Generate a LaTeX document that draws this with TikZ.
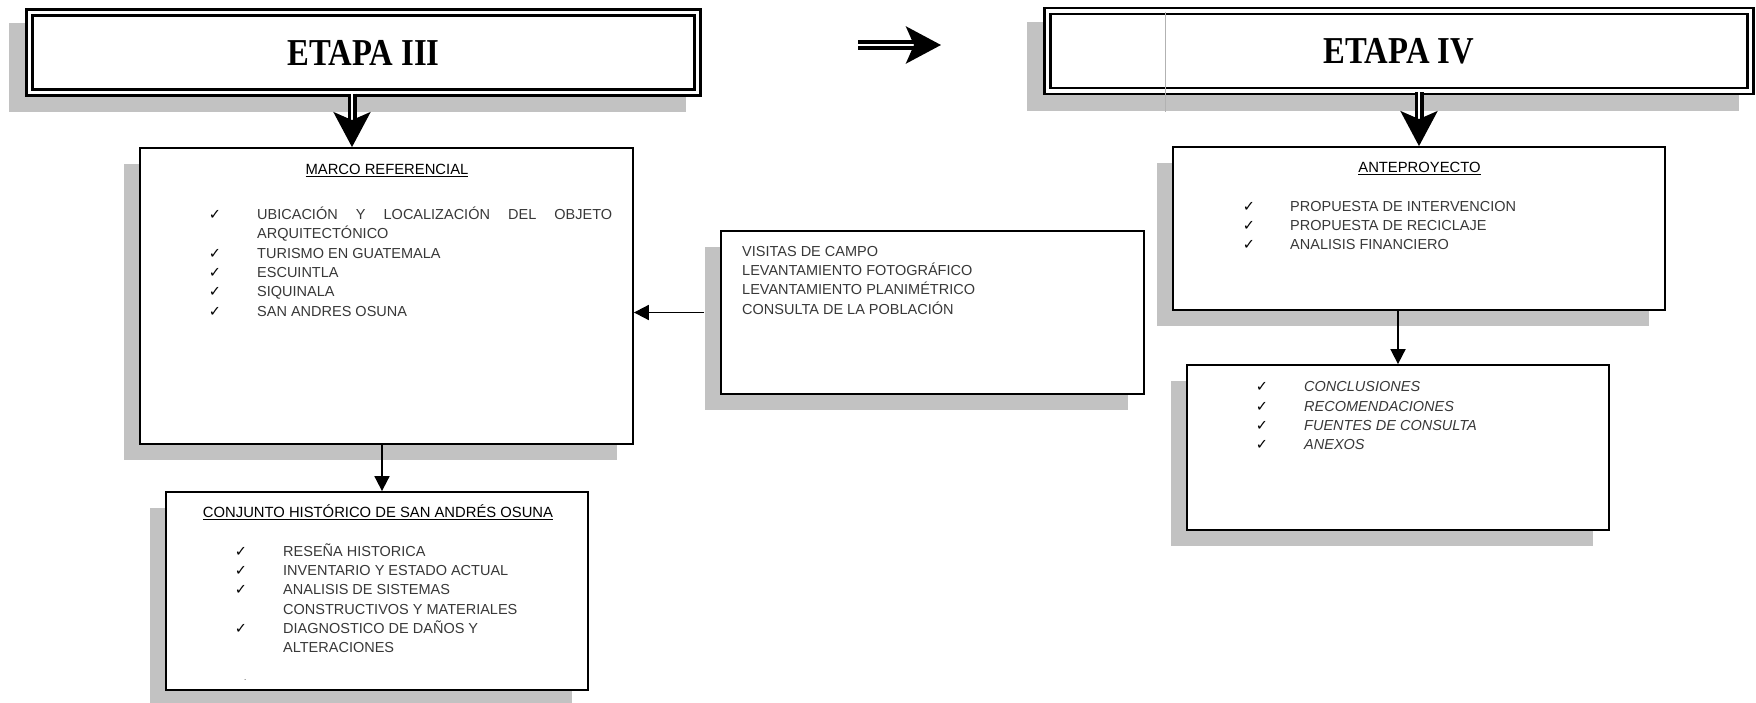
\documentclass[tikz,border=0pt]{standalone}
\usepackage{fontspec}
\usepackage{graphicx}
\setmainfont{Liberation Sans}
\newfontfamily\serifb{Liberation Serif}
\newfontfamily\symf{DejaVu Sans}
\usetikzlibrary{arrows.meta,shadows,calc}
\definecolor{shade}{gray}{0.76}
\definecolor{txt}{gray}{0.22}
\newcommand{\etapatxt}[1]{{\serifb\bfseries\fontsize{38}{40}\selectfont\scalebox{0.86}[1]{#1}}}
\newcommand{\chkm}{{\symf ✓}}
\tikzset{
  box/.style={draw=black, line width=1.8pt, fill=white, inner sep=0pt,
    general shadow={fill=shade, shadow xshift=-16pt, shadow yshift=-16pt}},
  etapa/.style={draw=black, line width=2.4pt, double=white, double distance=3.4pt,
    fill=white, inner sep=0pt,
    general shadow={fill=shade, draw=shade, line width=9pt, shadow xshift=-16.5pt, shadow yshift=-15.5pt}},
  item/.style={anchor=base west, inner sep=0pt, text=txt, font=\fontsize{14.5}{17}\selectfont},
  chk/.style={anchor=base, inner sep=0pt, text=black, font=\symf\fontsize{14.5}{17}\selectfont},
  ttl/.style={anchor=base, inner sep=0pt, text=black, font=\fontsize{14.8}{17}\selectfont},
  conn/.style={line width=1.8pt, -{Triangle[length=15pt,width=15pt]}},
  bigarrow/.style={line width=3.6pt, double=white, double distance=1.8pt,
    -{Stealth[length=35pt,width=37pt,inset=8pt]}},
  grid/.style={gray!60, line width=0.6pt}
}
\begin{document}
\begin{tikzpicture}[x=1pt,y=-1pt]
\useasboundingbox (0,0) rectangle (1756,703);
\fill[white] (0,0) rectangle (1756,703);

% stage headers
\node[etapa, minimum width=668pt, minimum height=80pt] (e3) at (363.5,52.5) {\etapatxt{ETAPA III}};
\node[etapa, minimum width=703pt, minimum height=80pt] (e4) at (1399,51) {\etapatxt{ETAPA IV}};
\draw[grid] (1165,12) -- (1165,112);

% content boxes
\node[box, minimum width=493pt, minimum height=296pt] (marco) at (386.5,296) {};
\node[box, minimum width=422pt, minimum height=198pt] (conj) at (377,591) {};
\node[box, minimum width=423pt, minimum height=163pt] (vis) at (932.5,312.5) {};
\node[box, minimum width=492pt, minimum height=163pt] (ante) at (1419,228.5) {};
\node[box, minimum width=422pt, minimum height=165pt] (concl) at (1398,447.5) {};

% MARCO REFERENCIAL
\node[ttl] (mt) at (387,174.5) {\underline{MARCO REFERENCIAL}};
\node[chk] (mc1) at (215,219.5) {\chkm};
\node[item] (m1) at (257,219.5) {\makebox[355pt][s]{UBICACIÓN Y LOCALIZACIÓN DEL OBJETO}};
\node[item] (m1b) at (257,238.8) {ARQUITECTÓNICO};
\node[chk] (mc2) at (215,258.2) {\chkm};
\node[item] (m2) at (257,258.2) {TURISMO EN GUATEMALA};
\node[chk] (mc3) at (215,277.5) {\chkm};
\node[item] (m3) at (257,277.5) {ESCUINTLA};
\node[chk] (mc4) at (215,296.6) {\chkm};
\node[item] (m4) at (257,296.6) {SIQUINALA};
\node[chk] (mc5) at (215,316.6) {\chkm};
\node[item] (m5) at (257,316.6) {SAN ANDRES OSUNA};

% CONJUNTO
\node[ttl] (ct) at (378,517.5) {\underline{CONJUNTO HISTÓRICO DE SAN ANDRÉS OSUNA}};
\node[chk] (cc1) at (241,556) {\chkm};
\node[item] (c1) at (283,556) {RESEÑA HISTORICA};
\node[chk] (cc2) at (241,575.5) {\chkm};
\node[item] (c2) at (283,575.5) {INVENTARIO Y ESTADO ACTUAL};
\node[chk] (cc3) at (241,594.8) {\chkm};
\node[item] (c3) at (283,594.8) {ANALISIS DE SISTEMAS};
\node[item] (c3b) at (283,614.5) {CONSTRUCTIVOS Y MATERIALES};
\node[chk] (cc4) at (241,633.6) {\chkm};
\node[item] (c4) at (283,633.6) {DIAGNOSTICO DE DAÑOS Y};
\node[item] (c4b) at (283,652.8) {ALTERACIONES};
\node[item, font=\fontsize{8}{9}\selectfont] (cdot) at (244,680) {.};

% VISITAS
\node[item] (v1) at (742,256.6) {VISITAS DE CAMPO};
\node[item] (v2) at (742,275.6) {LEVANTAMIENTO FOTOGRÁFICO};
\node[item] (v3) at (742,294.8) {LEVANTAMIENTO PLANIMÉTRICO};
\node[item] (v4) at (742,314.2) {CONSULTA DE LA POBLACIÓN};

% ANTEPROYECTO
\node[ttl] (at) at (1419.5,172.5) {\underline{ANTEPROYECTO}};
\node[chk] (ac1) at (1249,211.6) {\chkm};
\node[item] (a1) at (1290,211.6) {PROPUESTA DE INTERVENCION};
\node[chk] (ac2) at (1249,230.7) {\chkm};
\node[item] (a2) at (1290,230.7) {PROPUESTA DE RECICLAJE};
\node[chk] (ac3) at (1249,249.8) {\chkm};
\node[item] (a3) at (1290,249.8) {ANALISIS FINANCIERO};

% CONCLUSIONES
\node[chk] (kc1) at (1262,391.8) {\chkm};
\node[item, font=\itshape\fontsize{14.5}{17}\selectfont] (k1) at (1304,391.8) {CONCLUSIONES};
\node[chk] (kc2) at (1262,411) {\chkm};
\node[item, font=\itshape\fontsize{14.5}{17}\selectfont] (k2) at (1304,411) {RECOMENDACIONES};
\node[chk] (kc3) at (1262,430) {\chkm};
\node[item, font=\itshape\fontsize{14.5}{17}\selectfont] (k3) at (1304,430) {FUENTES DE CONSULTA};
\node[chk] (kc4) at (1262,449) {\chkm};
\node[item, font=\itshape\fontsize{14.5}{17}\selectfont] (k4) at (1304,449) {ANEXOS};

% connectors
\coordinate (ra1) at (858,45);
\coordinate (ra2) at (941,45);
\draw[bigarrow, line width=4.2pt] (ra1) -- (ra2);
\draw[bigarrow] ($(e3.south)+(-11.5,0)$) -- ($(marco.north)+(-34.5,0)$);
\draw[bigarrow] ($(e4.south)+(20,0)$) -- (ante.north);
\draw[conn] ($(vis.west)+(-16,0)$) -- (marco.east |- vis.west);
\draw[conn] ($(marco.south)+(-4.5,0)$) -- ($(conj.north)+(5,0)$);
\draw[conn] (ante.south -| concl.north) -- (concl.north);
\end{tikzpicture}
\end{document}
